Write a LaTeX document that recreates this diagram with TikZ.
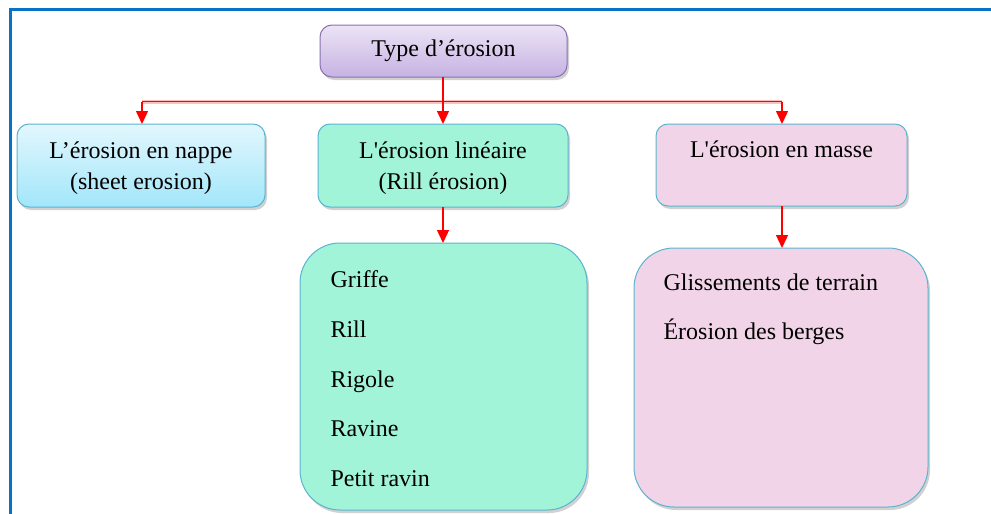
\documentclass[tikz,border=0pt]{standalone}
\usepackage{fontspec}
\setmainfont{Liberation Serif}
\newfontfamily\boxfont{Liberation Serif}
\usetikzlibrary{shadows,arrows.meta}
\definecolor{frameblue}{HTML}{0A72C6}
\definecolor{edgeblue}{HTML}{5BB4CF}
\definecolor{edgepurple}{HTML}{8A72AE}
\definecolor{purpletop}{HTML}{ECE4F6}
\definecolor{purplebot}{HTML}{C6B2E2}
\definecolor{bluetop}{HTML}{E2F7FD}
\definecolor{bluebot}{HTML}{A2E6FA}
\definecolor{mint}{HTML}{A2F4D8}
\definecolor{pink}{HTML}{F2D4E8}
\begin{document}
\begin{tikzpicture}[x=1pt,y=-1pt,
  every node/.style={font=\boxfont\fontsize{24}{31}\selectfont},
  boxshadow/.style={drop shadow={shadow xshift=2pt,shadow yshift=-3pt,opacity=0.3,fill=black!60}},
  smallbox/.style={rounded corners=12pt,line width=1pt,boxshadow},
  bigbox/.style={rounded corners=40pt,line width=1pt,boxshadow},
  link/.style={draw=red,line width=1.3pt},
  arr/.style={link,-{Triangle[length=13pt,width=12pt]}}
]
\useasboundingbox (0,0) rectangle (991,514);
% outer frame, running off the right and bottom edges
\draw[frameblue,line width=3pt] (10.7,520) -- (10.7,9.8) -- (1000,9.8);

% boxes
\path[smallbox,draw=edgepurple,top color=purpletop,bottom color=purplebot]
  (320,25) rectangle (567,77);
\node (top) at (443.5,51) {Type d’érosion};
\coordinate (topS) at (443,77);

\path[smallbox,draw=edgeblue,top color=bluetop,bottom color=bluebot]
  (17,124) rectangle (265,207);
\node[align=center,anchor=north] (nappe) at (141,138) {L’érosion en nappe\\(sheet erosion)};
\coordinate (nappeN) at (142,124);

\path[smallbox,draw=edgeblue,fill=mint] (318,124) rectangle (568,207);
\node[align=center,anchor=north] (lin) at (443,138) {L'érosion linéaire\\(Rill érosion)};
\coordinate (linN) at (443,124);
\coordinate (linS) at (443,207);

\path[smallbox,draw=edgeblue,fill=pink] (656,124) rectangle (907,206);
\node[anchor=north] (masse) at (781.5,137) {L'érosion en masse};
\coordinate (masseN) at (782,124);
\coordinate (masseS) at (782,206);

\path[bigbox,draw=edgeblue,fill=mint] (300,243) rectangle (587,510);
\coordinate (listA) at (443,243);
\node[anchor=base west] (g1) at (327,287) {Griffe};
\node[anchor=base west] (g2) at (327,337) {Rill};
\node[anchor=base west] (g3) at (327,387) {Rigole};
\node[anchor=base west] (g4) at (327,436) {Ravine};
\node[anchor=base west] (g5) at (327,486) {Petit ravin};

\path[bigbox,draw=edgeblue,fill=pink] (634,248) rectangle (928,507);
\coordinate (listB) at (782,248);
\node[anchor=base west] (m1) at (660,290) {Glissements de terrain};
\node[anchor=base west] (m2) at (660,339) {Érosion des berges};

% connectors
\coordinate (bus) at (443,101.5);
\draw[draw=red!25,line width=4pt] (142,101.5) -- (782,101.5);
\draw[link] (topS) -- (bus);
\draw[arr] (nappeN |- bus) -- (nappeN);
\draw[arr] (bus) -- (linN);
\draw[arr] (masseN |- bus) -- (masseN);
\draw[link] (nappeN |- bus) -- (masseN |- bus);
\draw[arr] (linS) -- (listA);
\draw[arr] (masseS) -- (listB);
\end{tikzpicture}
\end{document}
